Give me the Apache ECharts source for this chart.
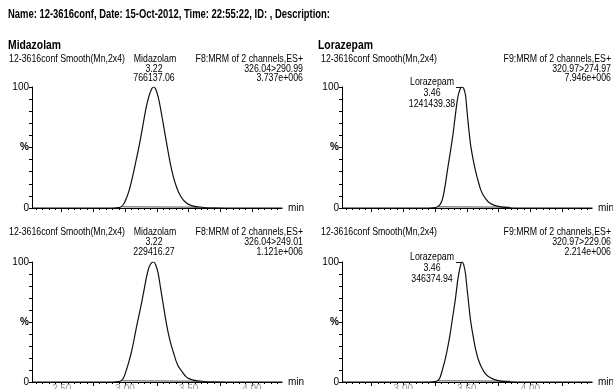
<!DOCTYPE html>
<html><head><meta charset="utf-8">
<script src="https://cdn.jsdelivr.net/npm/echarts@6/dist/echarts.min.js"></script>
<style>html,body{margin:0;padding:0;background:#fff}#c{width:613px;height:389px}</style>
</head><body><div id="c"></div>
<script>
// ---- data ----
const midazolamTime = [2.27,2.90,2.95,2.97,2.99,3.01,3.03,3.05,3.07,3.09,3.11,3.13,3.15,3.17,3.19,3.21,3.225,3.24,3.26,3.28,3.30,3.32,3.34,3.36,3.38,3.40,3.42,3.44,3.46,3.48,3.50,3.53,3.57,3.62,3.70,3.80,4.24];
const midazolam290 = [0,0,0.3,1,3.5,8,14,22,31,41,51,62,74,85,93,98.5,100,98.5,92,82,70,58,46,35,26,19,13.5,9.5,6.5,4.5,3,1.8,0.9,0.4,0.1,0,0];
const midazolam249 = [0,0,0.3,1,4,10,17,25,35,46,56,66,77,88,96,99.5,100,98,91,78,65,52,41,32,25,18,13,10,7,4.5,3,1.8,0.9,0.4,0.1,0,0];
const lorazepamTime = [2.52,3.20,3.25,3.27,3.29,3.31,3.33,3.35,3.37,3.39,3.41,3.43,3.45,3.462,3.475,3.49,3.50,3.51,3.52,3.53,3.55,3.57,3.59,3.61,3.63,3.65,3.67,3.70,3.74,3.78,3.84,3.90,4.49];
const lorazepam274 = [0,0,0.3,1,3,8,19,33,46,60,77,92,99,100,99,93,82,71,61,52,40,30,22,15,10.5,7.5,5,3,1.5,0.7,0.2,0,0];
const lorazepam229 = [0,0,0.3,1,4,11,19,29,41,55,69,86,97,100,98,90,80,70,60,51,38,27,19,13.5,9.5,6.5,4.5,2.8,1.4,0.6,0.1,0,0];
const midazolamBaseTime = [2.98, 3.58];
const midazolamBaseVal = [1.0, 0.7];
const lorazepamBaseTime = [3.27, 3.84];
const lorazepamBaseVal = [1.0, 0.6];
const midazolamRange = [2.266, 4.237];
const lorazepamRange = [2.517, 4.486];
const midazolamMajor = [2.50,2.75,3.00,3.25,3.50,3.75,4.00];
const lorazepamMajor = [2.75,3.00,3.25,3.50,3.75,4.00,4.25];
const midazolamLabels = [2.50,3.00,3.50,4.00];
const lorazepamLabels = [3.00,3.50,4.00];
const yTickValues = [0,50,100];
const yTickText = ['0','%','100'];

const title = 'Name: 12-3616conf, Date: 15-Oct-2012, Time: 22:55:22, ID: , Description:';
const panels = [
  {compound:'Midazolam', fn:'F8:MRM of 2 channels,ES+', trans:'326.04>290.99', inten:'3.737e+006', rt:'3.22', area:'766137.06'},
  {compound:'Lorazepam', fn:'F9:MRM of 2 channels,ES+', trans:'320.97>274.97', inten:'7.946e+006', rt:'3.46', area:'1241439.38'},
  {compound:'Midazolam', fn:'F8:MRM of 2 channels,ES+', trans:'326.04>249.01', inten:'1.121e+006', rt:'3.22', area:'229416.27'},
  {compound:'Lorazepam', fn:'F9:MRM of 2 channels,ES+', trans:'320.97>229.06', inten:'2.214e+006', rt:'3.46', area:'346374.94'}
];
const sampleName = '12-3616conf Smooth(Mn,2x4)';

// ---- layout ----
const FF = '"Liberation Sans", Arial, sans-serif';
const grids = [
  {left:32, top:87, width:250, height:121, outerBoundsMode:'none', containLabel:false},
  {left:342, top:87, width:250, height:121, outerBoundsMode:'none', containLabel:false},
  {left:32, top:262, width:250, height:120, outerBoundsMode:'none', containLabel:false},
  {left:342, top:262, width:250, height:120, outerBoundsMode:'none', containLabel:false}
];
const cv = document.createElement('canvas').getContext('2d');
function measure(t, font){ cv.font = font; return cv.measureText(t).width; }
const SMALL = '10.5px ' + FF;
const SX = 116 / measure(sampleName, SMALL);
function txt(t, x, y, o){
  o = o || {};
  const font = o.font || SMALL;
  const sx = o.w ? o.w / measure(t, font) : SX;
  return {type:'text', x:x, y:y, scaleX:sx, silent:true,
    style:{text:t, font:font, fill:'#000', textAlign:o.align||'left', textVerticalAlign:'middle'}};
}
const gfx = [];
gfx.push(txt(title, 8, 15, {font:'bold 12px '+FF, w:322}));
gfx.push(txt('Midazolam', 8, 46, {font:'bold 12px '+FF, w:53}));
gfx.push(txt('Lorazepam', 318, 46, {font:'bold 12px '+FF, w:55}));
const hdrY = [59, 232.5];
[0,1,2,3].forEach(i => {
  const p = panels[i];
  const right = i % 2 === 1;
  const y0 = hdrY[i < 2 ? 0 : 1];
  const gx = right ? 321 : 9;
  const rx = right ? 611 : 303;
  gfx.push(txt(sampleName, gx, y0));
  gfx.push(txt(p.fn, rx, y0, {align:'right'}));
  gfx.push(txt(p.trans, rx, y0 + 10, {align:'right'}));
  gfx.push(txt(p.inten, rx, y0 + 19.5, {align:'right'}));
  if (!right) {
    gfx.push(txt(p.compound, 155, y0, {align:'center'}));
    gfx.push(txt(p.rt, 154, y0 + 10, {align:'center'}));
    gfx.push(txt(p.area, 154, y0 + 19.5, {align:'center'}));
  } else {
    const ly = i < 2 ? 82 : 257;
    gfx.push(txt(p.compound, 432, ly, {align:'center'}));
    gfx.push(txt(p.rt, 432, ly + 11, {align:'center'}));
    gfx.push(txt(p.area, 432, ly + 22, {align:'center'}));
  }
});

function minorTicks(range){
  const out = [];
  for (let k = Math.ceil(range[0]*20); k <= Math.floor(range[1]*20); k++) out.push(+(k/20).toFixed(2));
  return out;
}
const xAxes = [], yAxes = [], series = [];
[0,1,2,3].forEach(i => {
  const right = i % 2 === 1;
  const bottom = i >= 2;
  const range = right ? lorazepamRange : midazolamRange;
  xAxes.push({type:'value', gridIndex:i, min:range[0], max:range[1], position:'bottom', offset:0,
    name:'min', nameLocation:'end', nameGap:6,
    nameTextStyle:{fontFamily:FF, fontSize:10, color:'#000', verticalAlign:'middle', padding:[3,0,0,0]},
    axisLine:{onZero:false, lineStyle:{color:'#000', width:1}},
    axisTick:{show:true, length:4, lineStyle:{color:'#000'}, customValues:right?lorazepamMajor:midazolamMajor},
    axisLabel:{show:bottom, customValues:right?lorazepamLabels:midazolamLabels, margin:2,
      formatter:v=>v.toFixed(2), fontFamily:FF, fontSize:10, color:'#999'},
    splitLine:{show:false}});
  xAxes.push({type:'value', gridIndex:i, min:range[0], max:range[1], position:'bottom', offset:0,
    axisLine:{show:false, onZero:false},
    axisTick:{show:true, length:2, lineStyle:{color:'#000'}, customValues:minorTicks(range)},
    axisLabel:{show:false, customValues:minorTicks(range)}, splitLine:{show:false}});
  yAxes.push({type:'value', gridIndex:i, min:0, max:100, interval:10,
    axisLine:{show:true, lineStyle:{color:'#000'}},
    axisTick:{show:true, length:3, lineStyle:{color:'#000'}},
    axisLabel:{margin:3, fontFamily:FF, fontSize:10, color:'#000',
      formatter:v=>{const k=yTickValues.indexOf(v); return k<0?'':(yTickText[k]==='%'?'{b|%}':yTickText[k]);},
      rich:{b:{fontWeight:'bold', fontSize:10, fontFamily:FF}}},
    splitLine:{show:false}});
  const t = right ? lorazepamTime : midazolamTime;
  const v = right ? (bottom ? lorazepam229 : lorazepam274) : (bottom ? midazolam249 : midazolam290);
  const s = {type:'line', xAxisIndex:2*i, yAxisIndex:i, symbol:'none', smooth:0.3, animation:false,
    lineStyle:{color:'#111', width:1.2}, data:t.map((x,k)=>[x,v[k]]), z:3};
  if (right) {
    s.markLine = {silent:true, symbol:'none', label:{show:false}, lineStyle:{color:'#111', width:1, type:'solid'},
      data:[[{coord:[3.415,100]},{coord:[3.462,100]}]]};
  }
  series.push(s);
  const bt = right ? lorazepamBaseTime : midazolamBaseTime;
  const bv = right ? lorazepamBaseVal : midazolamBaseVal;
  series.push({type:'line', xAxisIndex:2*i, yAxisIndex:i, symbol:'none', animation:false,
    lineStyle:{color:'#888', width:1.5}, data:bt.map((x,k)=>[x,bv[k]]), z:2});
});

const chart = echarts.init(document.getElementById('c'), null, {renderer:'canvas'});
chart.setOption({backgroundColor:'#fff', animation:false, grid:grids, xAxis:xAxes, yAxis:yAxes, series:series, graphic:gfx});
</script></body></html>
